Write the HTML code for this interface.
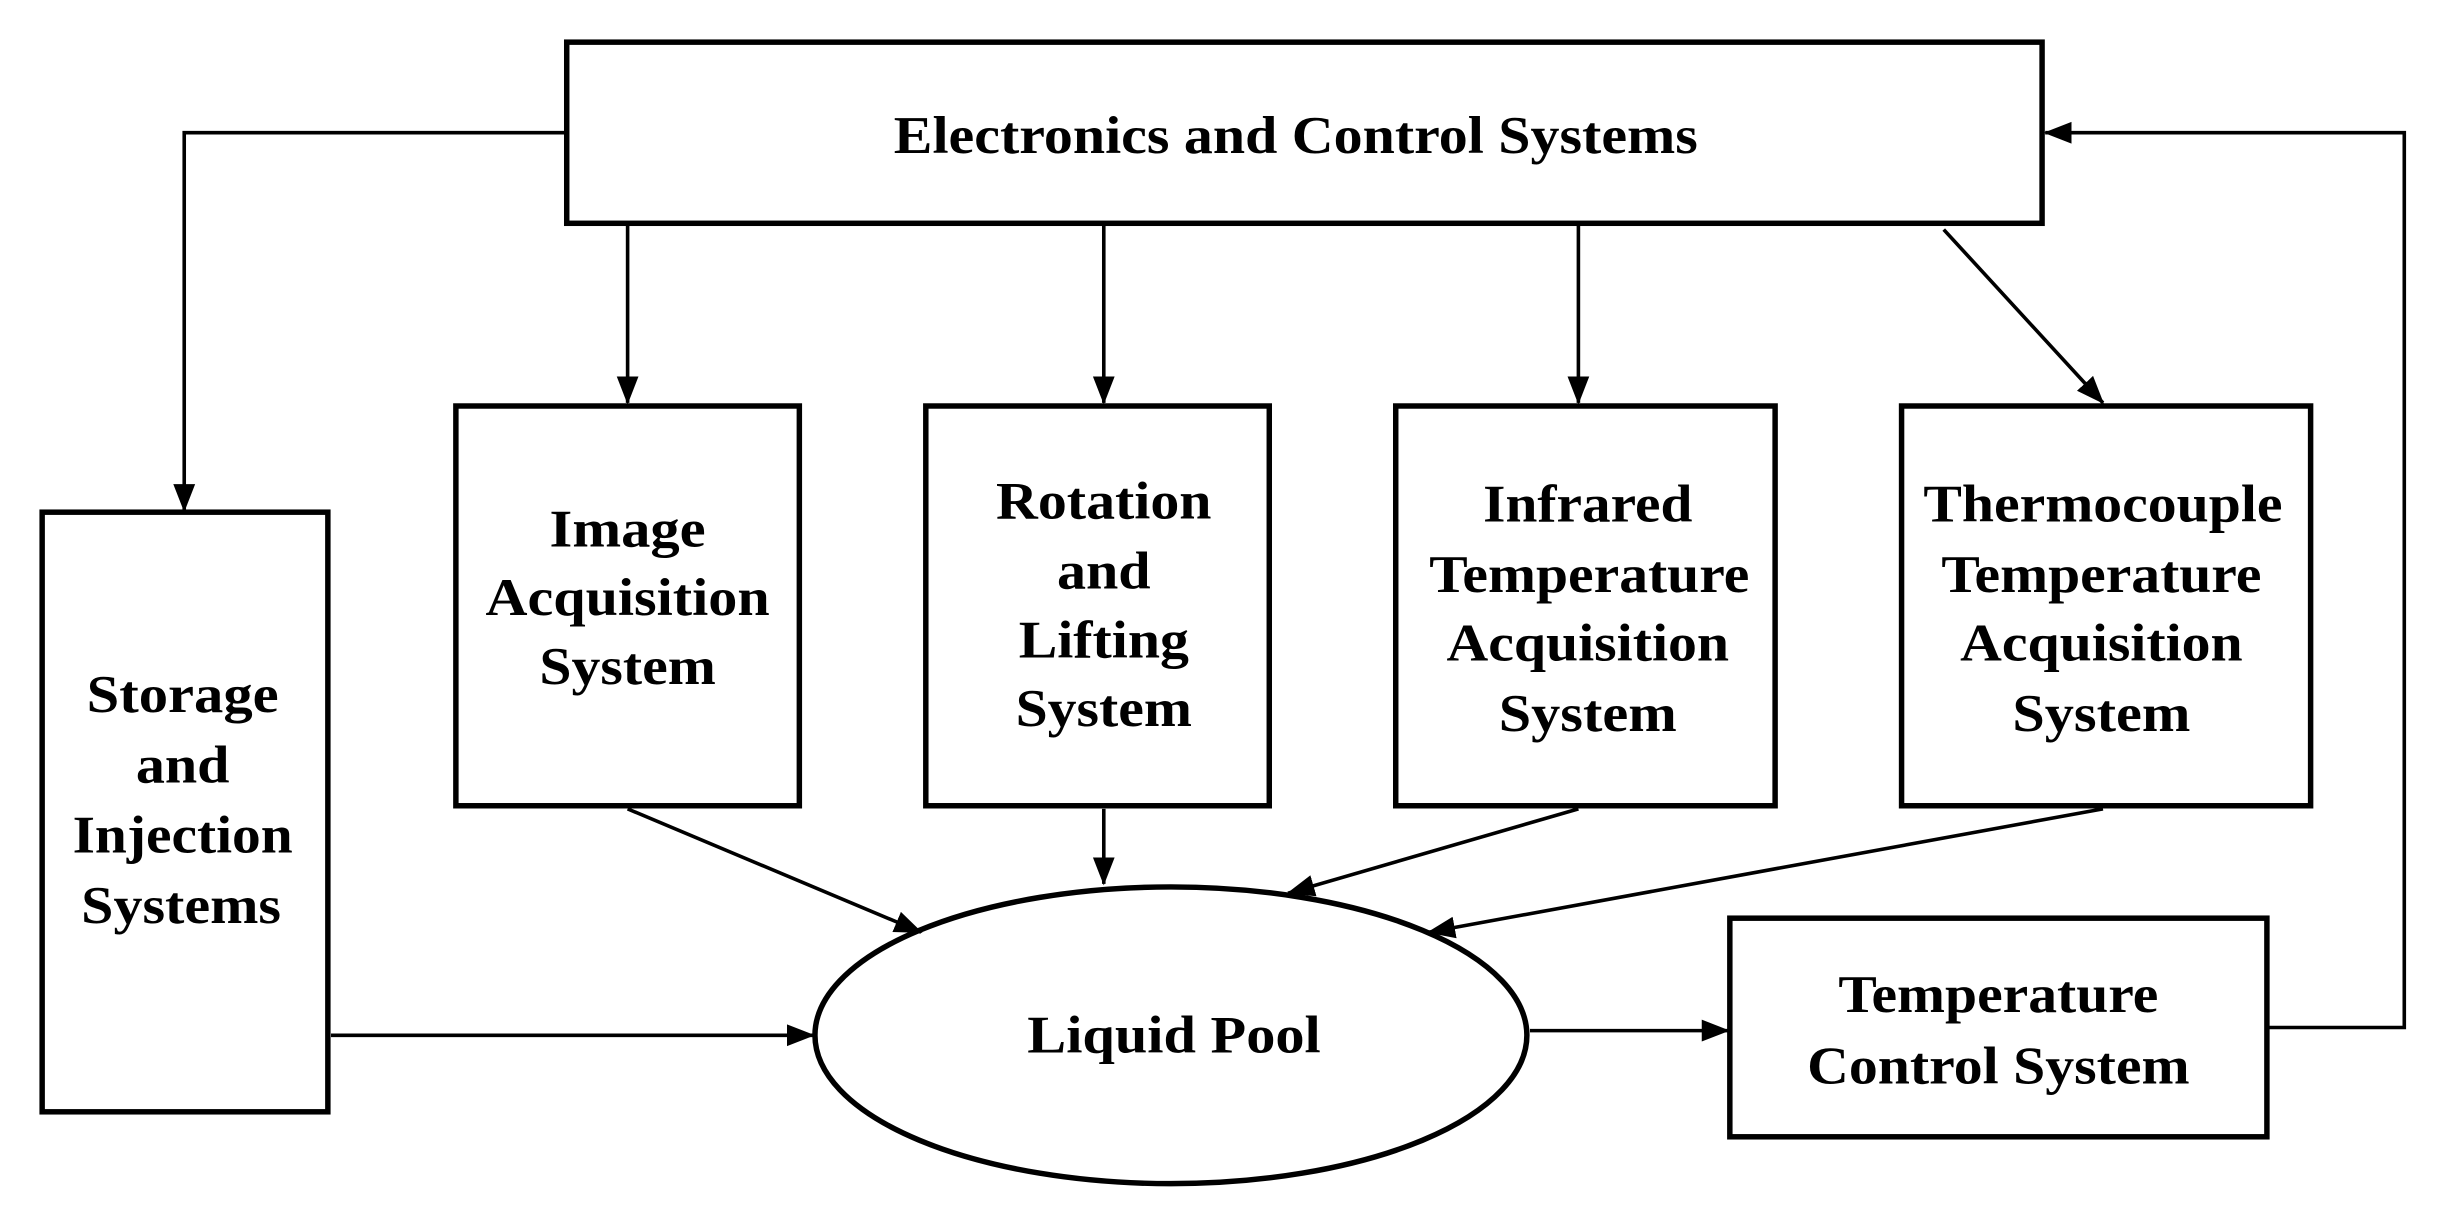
<!DOCTYPE html>
<html><head><meta charset="utf-8"><style>
html,body{margin:0;padding:0;background:#fff;}
svg{display:block;}
text{font-family:"Liberation Serif",serif;font-weight:bold;font-size:34px;fill:#000;text-anchor:middle;}
</style></head><body>
<svg width="2448" height="1218" viewBox="0 0 1568 780" preserveAspectRatio="none" xmlns="http://www.w3.org/2000/svg">
<defs>
<marker id="b" markerWidth="18" markerHeight="18" refX="17" refY="9" orient="auto" markerUnits="userSpaceOnUse" viewBox="0 0 18 18"><path d="M0,2 L18,9 L0,16 z" fill="#000"/></marker></defs>
<g fill="none" stroke="#000" stroke-width="3.5">
<rect x="363" y="27" width="945" height="116"/>
<rect x="27" y="328" width="183" height="384"/>
<rect x="292" y="260" width="220" height="256"/>
<rect x="593" y="260" width="220" height="256"/>
<rect x="894" y="260" width="243" height="256"/>
<rect x="1218" y="260" width="262" height="256"/>
<rect x="1108" y="588" width="344" height="140"/>
<ellipse cx="750" cy="663" rx="228" ry="95"/>
</g>
<g fill="none" stroke="#000" stroke-width="2.3">
<polyline points="363,85 118,85 118,327" marker-end="url(#b)"/>
<line x1="402" y1="143" x2="402" y2="258" marker-end="url(#b)"/>
<line x1="707" y1="143" x2="707" y2="258" marker-end="url(#b)"/>
<line x1="1011" y1="143" x2="1011" y2="258" marker-end="url(#b)"/>
<line x1="1245" y1="147" x2="1347" y2="258" marker-end="url(#b)"/>
<line x1="402" y1="518" x2="590" y2="597" marker-end="url(#b)"/>
<line x1="707" y1="518" x2="707" y2="566" marker-end="url(#b)"/>
<line x1="1011" y1="518" x2="825" y2="572" marker-end="url(#b)"/>
<line x1="1347" y1="518" x2="915" y2="597" marker-end="url(#b)"/>
<line x1="212" y1="663" x2="521" y2="663" marker-end="url(#b)"/>
<line x1="980" y1="660" x2="1107" y2="660" marker-end="url(#b)"/>
<polyline points="1452,658 1540,658 1540,85 1310,85" marker-end="url(#b)"/>
</g>
<text x="830" y="98" textLength="515" lengthAdjust="spacingAndGlyphs">Electronics and Control Systems</text>
<text x="117" y="456" textLength="123" lengthAdjust="spacingAndGlyphs">Storage</text>
<text x="117" y="501" textLength="60" lengthAdjust="spacingAndGlyphs">and</text>
<text x="117" y="546" textLength="141" lengthAdjust="spacingAndGlyphs">Injection</text>
<text x="116" y="591" textLength="128" lengthAdjust="spacingAndGlyphs">Systems</text>
<text x="402" y="350" textLength="100" lengthAdjust="spacingAndGlyphs">Image</text>
<text x="402" y="394" textLength="182" lengthAdjust="spacingAndGlyphs">Acquisition</text>
<text x="402" y="438" textLength="113" lengthAdjust="spacingAndGlyphs">System</text>
<text x="707" y="332" textLength="138" lengthAdjust="spacingAndGlyphs">Rotation</text>
<text x="707" y="377" textLength="60" lengthAdjust="spacingAndGlyphs">and</text>
<text x="707" y="421" textLength="109" lengthAdjust="spacingAndGlyphs">Lifting</text>
<text x="707" y="465" textLength="113" lengthAdjust="spacingAndGlyphs">System</text>
<text x="1017" y="334" textLength="134" lengthAdjust="spacingAndGlyphs">Infrared</text>
<text x="1018" y="379" textLength="205" lengthAdjust="spacingAndGlyphs">Temperature</text>
<text x="1017" y="423" textLength="181" lengthAdjust="spacingAndGlyphs">Acquisition</text>
<text x="1017" y="468" textLength="114" lengthAdjust="spacingAndGlyphs">System</text>
<text x="1347" y="334" textLength="230" lengthAdjust="spacingAndGlyphs">Thermocouple</text>
<text x="1346" y="379" textLength="205" lengthAdjust="spacingAndGlyphs">Temperature</text>
<text x="1346" y="423" textLength="181" lengthAdjust="spacingAndGlyphs">Acquisition</text>
<text x="1346" y="468" textLength="114" lengthAdjust="spacingAndGlyphs">System</text>
<text x="752" y="674" textLength="188" lengthAdjust="spacingAndGlyphs">Liquid Pool</text>
<text x="1280" y="648" textLength="205" lengthAdjust="spacingAndGlyphs">Temperature</text>
<text x="1280" y="694" textLength="245" lengthAdjust="spacingAndGlyphs">Control System</text>
</svg>
</body></html>
